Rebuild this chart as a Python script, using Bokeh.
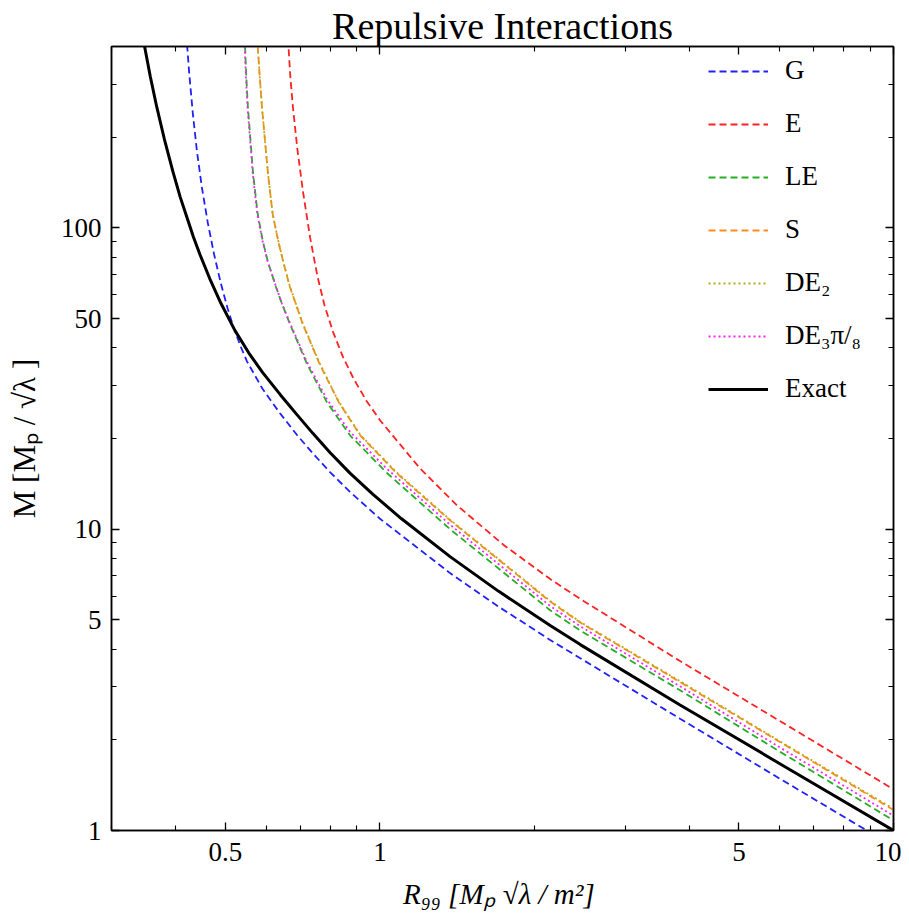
from bokeh.plotting import figure
from bokeh.models import LogAxis, FixedTicker, Legend, LegendItem
from bokeh.embed import file_html
from bokeh.resources import INLINE

# ---- tick data ----
x_ticks = [0.5, 1, 5, 10]
x_tick_labels = ["0.5", "1", "5", "10"]
x_minor = [0.3, 0.4, 0.6, 0.7, 0.8, 0.9, 2, 3, 4, 6, 7, 8, 9]
y_ticks = [1, 5, 10, 50, 100]
y_tick_labels = ["1", "5", "10", "50", "100"]
y_minor = [2, 3, 4, 6, 7, 8, 9, 20, 30, 40, 60, 70, 80, 90, 200, 300]

# ---- series ----
g_x = [0.421, 0.425, 0.432, 0.440, 0.450, 0.462, 0.475, 0.490, 0.505, 0.518, 0.535, 0.551,
       0.590, 0.638, 0.690, 0.740, 0.800, 0.874, 1.0, 1.369, 1.70, 2.145, 2.455, 3.84, 6.03, 9.5]
g_y = [406, 327, 240, 180, 136, 104, 82, 65.3, 54.0, 47.0, 40.5, 36.0,
       29.3, 24.3, 20.5, 17.85, 15.45, 13.3, 10.83, 7.15, 5.54, 4.29, 3.73, 2.35, 1.48, 0.933]

e_x = [0.662, 0.664, 0.669, 0.677, 0.690, 0.708, 0.731, 0.755, 0.780, 0.810, 0.847, 0.890,
       0.942, 1.0, 1.197, 1.411, 1.739, 2.145, 2.455, 3.84, 6.03, 10]
e_y = [426, 390, 317, 250, 184, 132, 92.8, 69.4, 55.2, 45.2, 37.3, 31.4,
       26.6, 23.0, 15.9, 12.02, 8.88, 6.83, 5.87, 3.65, 2.30, 1.37]

le_x = [0.546, 0.549, 0.553, 0.566, 0.578, 0.591, 0.605, 0.627, 0.645, 0.668, 0.720, 0.787,
        0.874, 1.03, 1.369, 2.145, 2.455, 3.84, 6.03, 10]
le_y = [400, 320, 252, 152, 111, 90.8, 77.1, 63.8, 55.7, 47.9, 35.5, 26.5,
        20.5, 15.4, 10.0, 5.38, 4.61, 2.92, 1.82, 1.08]

s_x = [0.578, 0.583, 0.589, 0.605, 0.618, 0.633, 0.648, 0.667, 0.686, 0.707, 0.762, 0.830,
       0.915, 1.075, 1.369, 2.145, 2.455, 3.84, 6.03, 10]
s_y = [400, 320, 252, 152, 111, 91.0, 77.1, 64, 55.7, 48, 35.5, 26.5,
       20.5, 15.4, 10.7, 5.75, 4.90, 3.11, 1.96, 1.17]

de2_x = [0.578, 0.583, 0.589, 0.605, 0.618, 0.633, 0.648, 0.667, 0.686, 0.707, 0.762, 0.830,
         0.915, 1.075, 1.369, 2.145, 2.455, 3.84, 6.03, 10]
de2_y = [400, 320, 252, 152, 111.5, 91.3, 77.4, 64.3, 56.0, 48.3, 35.7, 26.6,
         20.6, 15.5, 10.75, 5.78, 4.92, 3.13, 1.97, 1.18]

de38_x = [0.545, 0.548, 0.552, 0.565, 0.577, 0.590, 0.604, 0.626, 0.644, 0.667, 0.719, 0.786,
          0.873, 1.03, 1.369, 2.145, 2.455, 3.84, 6.03, 10]
de38_y = [400, 320, 252, 152, 111, 91.0, 77.5, 64.5, 56.2, 48.6, 36.2, 27.2,
          21.1, 15.9, 10.35, 5.56, 4.76, 3.01, 1.88, 1.12]

ex_x = [0.348, 0.357, 0.3675, 0.380, 0.395, 0.408, 0.421, 0.433, 0.446, 0.466, 0.490, 0.522,
        0.555, 0.591, 0.640, 0.689, 0.740, 0.799, 0.874, 0.969, 1.10, 1.369, 1.70, 2.145,
        2.455, 3.84, 6.03, 10]
ex_y = [400, 318, 252, 198, 154, 127, 108, 93.5, 81.6, 67.9, 56.2, 45.6,
        38.5, 33.1, 27.9, 24.0, 20.8, 17.96, 15.35, 13.04, 10.85, 8.11, 6.23, 4.79,
        4.14, 2.61, 1.66, 1.0]

FONT = "Liberation Serif"

p = figure(frame_width=782, frame_height=784,
           x_axis_type="log", y_axis_type="log",
           x_range=(0.3, 10), y_range=(1, 400),
           output_backend="svg", toolbar_location=None,
           min_border_left=111, min_border_right=8,
           min_border_top=46, min_border_bottom=60)

p.title.text = "Repulsive Interactions"
p.title.align = "center"
p.title.text_font = FONT
p.title.text_font_size = "38px"
p.title.text_font_style = "normal"
p.title.text_color = "black"
p.title.standoff = 0
p.title.offset = 0

p.xgrid.visible = False
p.ygrid.visible = False
p.outline_line_color = "black"
p.outline_line_width = 1.5
p.background_fill_color = "white"
p.border_fill_color = "white"


def style_axis(ax, ticks, minor, labels, show_labels):
    ax.ticker = FixedTicker(ticks=ticks, minor_ticks=minor)
    ax.axis_line_color = "black"
    ax.axis_line_width = 1.5
    ax.major_tick_in = 8
    ax.major_tick_out = 0
    ax.minor_tick_in = 5
    ax.minor_tick_out = 0
    ax.major_tick_line_color = "black"
    ax.minor_tick_line_color = "black"
    ax.major_tick_line_width = 1.3
    ax.minor_tick_line_width = 1.1
    ax.major_label_text_font = FONT
    ax.major_label_text_color = "black"
    ax.major_label_text_font_size = "27px"
    if show_labels:
        ax.major_label_overrides = {t: l for t, l in zip(ticks, labels)}
    else:
        ax.major_label_overrides = {t: "" for t in ticks}
        ax.major_label_standoff = 0


xa = p.xaxis[0]
ya = p.yaxis[0]
style_axis(xa, x_ticks, x_minor, x_tick_labels, True)
style_axis(ya, y_ticks, y_minor, y_tick_labels, True)
xa.major_label_standoff = 12
ya.major_label_standoff = 10

xa.axis_label = "R₉₉  [Mₚ √λ / m²]"
xa.axis_label_text_font = FONT
xa.axis_label_text_font_size = "29px"
xa.axis_label_text_font_style = "italic"
xa.axis_label_text_color = "black"
xa.axis_label_standoff = 14

ya.axis_label = "M [Mₚ / √λ ]"
ya.axis_label_text_font = FONT
ya.axis_label_text_font_size = "31px"
ya.axis_label_text_font_style = "normal"
ya.axis_label_text_color = "black"
ya.axis_label_standoff = 16

top_ax = LogAxis()
style_axis(top_ax, x_ticks, x_minor, x_tick_labels, False)
p.add_layout(top_ax, "above")
right_ax = LogAxis()
style_axis(right_ax, y_ticks, y_minor, y_tick_labels, False)
p.add_layout(right_ax, "right")

r_g = p.line(g_x, g_y, line_color="#2020ff", line_width=1.8, line_dash="7 4")
r_e = p.line(e_x, e_y, line_color="#ff2222", line_width=1.8, line_dash="7 4")
r_le = p.line(le_x, le_y, line_color="#22b022", line_width=1.8, line_dash="7 4")
r_s = p.line(s_x, s_y, line_color="#ff8c1a", line_width=1.8, line_dash="7 4")
r_de2 = p.line(de2_x, de2_y, line_color="#b5aa1a", line_width=1.8, line_dash="2 3")
r_de38 = p.line(de38_x, de38_y, line_color="#ff22ff", line_width=1.8, line_dash="2 3")
r_ex = p.line(ex_x, ex_y, line_color="black", line_width=3)

legend = Legend(items=[
    LegendItem(label="G", renderers=[r_g]),
    LegendItem(label="E", renderers=[r_e]),
    LegendItem(label="LE", renderers=[r_le]),
    LegendItem(label="S", renderers=[r_s]),
    LegendItem(label="DE₂", renderers=[r_de2]),
    LegendItem(label="DE₃π/₈", renderers=[r_de38]),
    LegendItem(label="Exact", renderers=[r_ex]),
], location=(597, 426))
legend.border_line_color = None
legend.background_fill_alpha = 0
legend.label_text_font = FONT
legend.label_text_font_size = "27px"
legend.label_text_color = "black"
legend.glyph_width = 60
legend.glyph_height = 30
legend.label_height = 30
legend.spacing = 22
legend.padding = 0
legend.margin = 0
legend.label_standoff = 17
p.add_layout(legend)

open("out.html", "w").write(file_html(p, INLINE))
